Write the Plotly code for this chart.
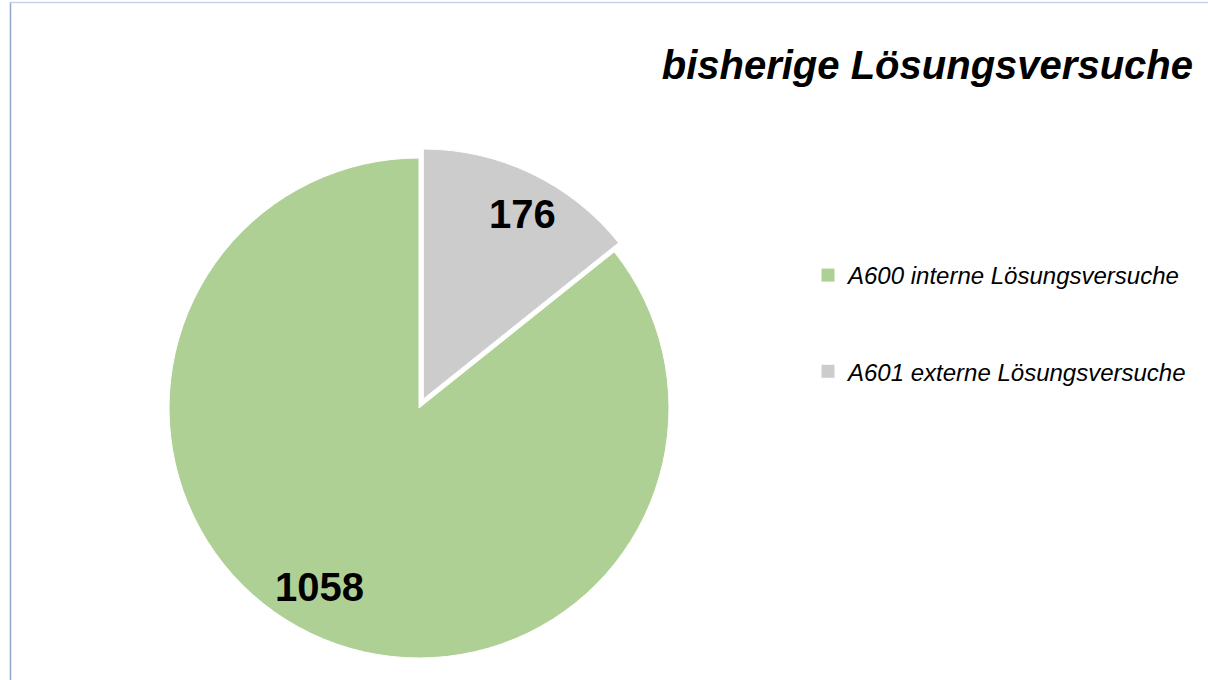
import math
import plotly.graph_objects as go

# ---- data ----
labels = ["A600 interne Lösungsversuche", "A601 externe Lösungsversuche"]
values = [1058, 176]
colors = ["#afd095", "#cccccc"]
pulls = [0, 0.04]
title_text = "bisherige Lösungsversuche"

W, H = 1208, 680
dom_x = [159 / W, 679 / W]
dom_y = [12 / H, 532 / H]
FONT = "Liberation Sans, Arial, sans-serif"

# the pie is drawn clockwise from 12 o'clock, A601 first
order = [1, 0]
fig = go.Figure()
fig.add_trace(go.Pie(
    labels=[labels[i] for i in order], values=[values[i] for i in order], sort=False,
    direction="clockwise", rotation=0, pull=[pulls[i] for i in order],
    marker=dict(colors=[colors[i] for i in order], line=dict(color="white", width=1)),
    textinfo="none", showlegend=False, domain=dict(x=dom_x, y=dom_y),
    hoverinfo="label+value",
))

# legend entries (spaced like the reference)
for lab, col in zip(labels, colors):
    fig.add_trace(go.Scatter(
        x=[None], y=[None], mode="markers", name=lab, legendgroup=lab,
        marker=dict(symbol="square", size=13, color=col, line=dict(width=0)),
        showlegend=True, hoverinfo="skip",
    ))

# data labels placed near each slice's bisector (computed from values)
max_pull = max(pulls)
box_w = (dom_x[1] - dom_x[0]) * W
box_h = (dom_y[1] - dom_y[0]) * H
r = min(box_w, box_h) / (2 + 2 * max_pull)
cx = (dom_x[0] + dom_x[1]) / 2 * W
cy = H - (dom_y[0] + dom_y[1]) / 2 * H  # from top
total = sum(values)
annotations = []
start = 0.0
for i in order:
    v, p = values[i], pulls[i]
    span = v / total * 360.0
    mid = start + span / 2  # clockwise-from-top degrees
    # pulled slice centre
    ox = cx + p * r * math.sin(math.radians(mid))
    oy = cy - p * r * math.cos(math.radians(mid))
    a = math.radians(mid + 3)
    px = ox + 0.83 * r * math.sin(a)
    py = oy - 0.83 * r * math.cos(a)
    annotations.append(dict(
        x=px / W, y=1 - py / H, xref="paper", yref="paper", text=f"<b>{v}</b>",
        showarrow=False, xanchor="center", yanchor="middle", yshift=3,
        font=dict(family=FONT, size=40, color="black"),
    ))
    start += span

fig.update_layout(
    width=W, height=H,
    margin=dict(l=0, r=0, t=0, b=0),
    paper_bgcolor="white", plot_bgcolor="white",
    title=dict(text="<b><i>" + title_text + "</i></b>", x=1193 / W, xanchor="right",
               xref="paper", yref="container", y=1 - 65 / H, yanchor="middle",
               font=dict(family=FONT, size=40, color="black")),
    legend=dict(x=808 / W, xanchor="left", y=1 - 253 / H, yanchor="top",
                tracegroupgap=62, font=dict(family=FONT, size=24, color="black", style="italic"),
                bgcolor="rgba(0,0,0,0)", itemsizing="trace"),
    xaxis=dict(visible=False), yaxis=dict(visible=False),
    annotations=annotations,
    shapes=[
        dict(type="line", xref="paper", yref="paper", x0=10.5 / W, x1=10.5 / W, y0=0, y1=1 - 2 / H,
             line=dict(color="#8eaacb", width=1.5)),
        dict(type="line", xref="paper", yref="paper", x0=10 / W, x1=1, y0=1 - 2.5 / H, y1=1 - 2.5 / H,
             line=dict(color="#c6d3e8", width=1.5)),
    ],
    showlegend=True,
)

fig.write_html("out.html", config={"displayModeBar": False},
               post_script="document.body.style.margin='0';")
